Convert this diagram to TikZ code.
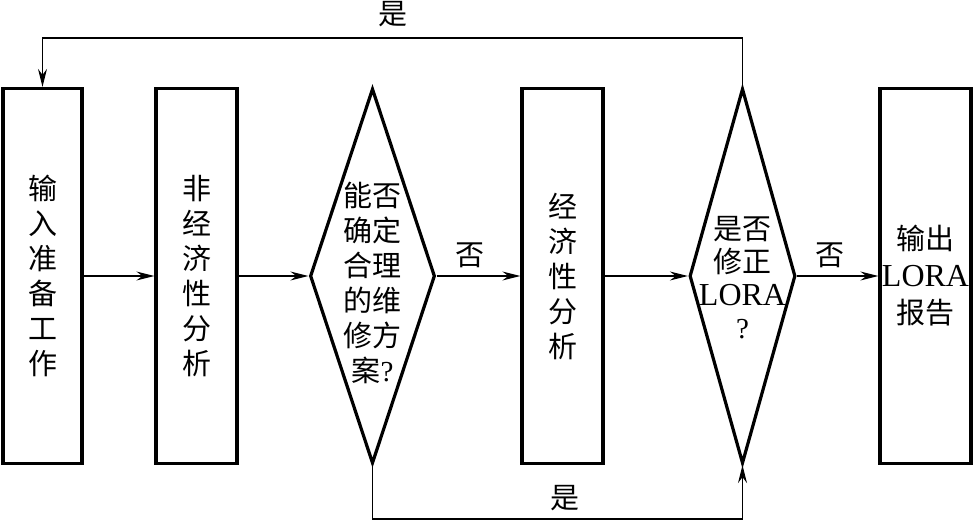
\documentclass[tikz,border=0pt]{standalone}
\usepackage{fontspec}
\setmainfont{Liberation Serif}
\newfontfamily\cjk{Noto Sans CJK SC}
\usetikzlibrary{shapes.geometric,arrows.meta}
\begin{document}
\begin{tikzpicture}[x=1pt,y=-1pt,
  box/.style={draw,line width=3.2pt,minimum width=#1,minimum height=375pt,inner sep=0pt,align=center,font=\cjk\fontsize{29}{35}\selectfont},
  dia/.style={draw,diamond,line width=3.2pt,inner sep=0pt,minimum width=#1,minimum height=375pt},
  lbl/.style={font=\cjk\fontsize{29}{35}\selectfont,inner sep=0pt,align=center},
  conn/.style={line width=1.3pt,-{Stealth[length=18pt,width=9pt,inset=6pt]}}]
\fill[white] (0,0) rectangle (974,521);
\useasboundingbox (0,0) rectangle (974,521);
\node[box=79pt] (b1) at (42.5,276) {输\\入\\准\\备\\工\\作};
\node[box=81pt] (b2) at (196.5,276) {非\\经\\济\\性\\分\\析};
\node[dia=125pt] (d1) at (372.5,276) {};
\node[lbl] (t1) at (372.5,283) {能否\\确定\\合理\\的维\\修方\\案{\rmfamily ?}};
\node[box=81pt] (b3) at (562.5,276) {经\\济\\性\\分\\析};
\node[dia=106pt] (d2) at (742.5,276) {};
\node[lbl,font=\cjk\fontsize{29}{33}\selectfont] (t2) at (742.5,278) {是否\\修正\\{\rmfamily\fontsize{32}{33}\selectfont LORA}\\{\rmfamily ?}};
\node[box=91pt,font=\cjk\fontsize{29}{37}\selectfont] (b4) at (925.5,276) {输出\\{\rmfamily\fontsize{32}{37}\selectfont LORA}\\报告};
\draw[conn] (b1.east) -- (b2.west);
\draw[conn] (b2.east) -- (d1.west);
\draw[conn] (d1.east) -- (b3.west);
\draw[conn] (b3.east) -- (d2.west);
\draw[conn] (d2.east) -- (b4.west);
\coordinate (tr) at (742.5,38);
\coordinate (tl) at (42.5,38);
\draw[conn] (d2.north) -- (tr) -- (tl) -- (b1.north);
\coordinate (bl) at (372.5,519);
\coordinate (br) at (742.5,519);
\draw[conn] (d1.south) -- (bl) -- (br) -- (d2.south);
\node[lbl] (y1) at (393,14) {是};
\node[lbl] (y2) at (565,498) {是};
\node[lbl] (n1) at (470,255) {否};
\node[lbl] (n2) at (830,255) {否};
\end{tikzpicture}
\end{document}
